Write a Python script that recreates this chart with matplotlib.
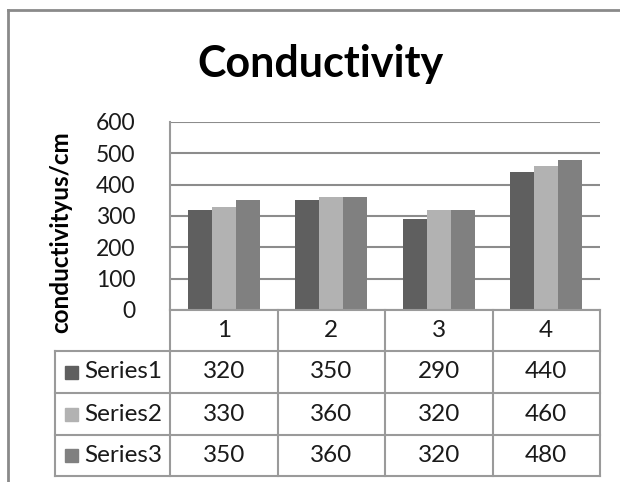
import matplotlib
matplotlib.use("Agg")
import matplotlib.pyplot as plt
from matplotlib.lines import Line2D
from matplotlib.patches import Rectangle
import matplotlib.transforms as mtransforms
import numpy as np

plt.rcParams['font.family'] = ['Lato', 'DejaVu Sans']

# ---- data ----
categories = ["1", "2", "3", "4"]
series_names = ["Series1", "Series2", "Series3"]
series1 = [320, 350, 290, 440]
series2 = [330, 360, 320, 460]
series3 = [350, 360, 320, 480]
y_ticks = [0, 100, 200, 300, 400, 500, 600]
title = "Conductivity"
ylabel = "conductivityus/cm"

series_values = [series1, series2, series3]
colors = ["#5f5f5f", "#b2b2b2", "#808080"]
grid_col = "#8c8c8c"
tbl_col = "#9a9a9a"
txt_col = "#1a1a1a"

W, H = 620, 482
fig = plt.figure(figsize=(W / 100, H / 100), dpi=100, facecolor="white")

# plot area in pixels
px_l, px_r, px_t, px_b = 170, 600, 122, 310
ax = fig.add_axes([px_l / W, 1 - px_b / H, (px_r - px_l) / W, (px_b - px_t) / H])

n = len(categories)
x = np.arange(n)
bw = 1 / 4.5
for i, (vals, c) in enumerate(zip(series_values, colors)):
    ax.bar(x + (i - 1) * bw, vals, width=bw, color=c, zorder=3, linewidth=0)

ax.set_xlim(-0.5, n - 0.5)
ax.set_ylim(0, 600)
ax.set_yticks(y_ticks)
ax.set_yticklabels([str(t) for t in y_ticks], fontsize=16.5, color=txt_col)
ax.tick_params(axis='y', length=0, pad=25)
ax.set_xticks([])
for s in ["top", "right", "bottom"]:
    ax.spines[s].set_visible(False)
ax.spines["left"].set_color(tbl_col)
ax.spines["left"].set_linewidth(1.5)
ax.yaxis.grid(True, color=grid_col, linewidth=1.5, zorder=0)
ax.set_axisbelow(True)

# ---- data table below the plot ----
ph = px_b - px_t
def ay(py):
    return (px_b - py) / ph
trans = mtransforms.blended_transform_factory(ax.transData, ax.transAxes)
row_edges_px = [310, 351, 393, 435, 476]
rows = [ay(p) for p in row_edges_px]
cat_px = (px_r - px_l) / n
label_left = -0.5 - (px_l - 55) / cat_px

def line(xs, ys):
    ax.add_line(Line2D(xs, ys, transform=trans, color=tbl_col, lw=1.5, clip_on=False, zorder=5))

# horizontal lines
line([-0.5, n - 0.5], [rows[0], rows[0]])
for r in rows[1:]:
    line([label_left, n - 0.5], [r, r])
# vertical lines
for k in range(n + 1):
    line([k - 0.5, k - 0.5], [rows[0], rows[-1]])
line([label_left, label_left], [rows[1], rows[-1]])

tfs = 17.5
# header labels
for k, cat in enumerate(categories):
    ax.text(k, (rows[0] + rows[1]) / 2, cat, transform=trans, ha='center', va='center',
            fontsize=tfs, color=txt_col, clip_on=False)
# rows
sq_w = (78 - 65) / cat_px
for j, (name, vals, c) in enumerate(zip(series_names, series_values, colors)):
    yc = (rows[j + 1] + rows[j + 2]) / 2
    sx = label_left + (65 - 55) / cat_px
    sq_h = 13 / ph
    ax.add_patch(Rectangle((sx, yc - sq_h / 2), sq_w, sq_h, transform=trans,
                           color=c, clip_on=False, zorder=5))
    ax.text(label_left + (84 - 55) / cat_px, yc, name, transform=trans,
            ha='left', va='center', fontsize=tfs, color=txt_col, clip_on=False)
    for k, v in enumerate(vals):
        ax.text(k, yc, str(v), transform=trans, ha='center', va='center',
                fontsize=tfs, color=txt_col, clip_on=False)

# title and y label
fig.text(320 / W, 1 - 64 / H, title, ha='center', va='center', fontsize=31,
         fontweight='bold', color="#000000")
fig.text(61 / W, 1 - 232 / H, ylabel, ha='center', va='center', rotation=90,
         fontsize=17.5, fontweight='bold', color="#000000")

# outer chart border (top and left visible)
fig.add_artist(Line2D([8 / W, 1.05], [1 - 10 / H, 1 - 10 / H], transform=fig.transFigure,
                      color="#8a8a8a", lw=2))
fig.add_artist(Line2D([8 / W, 8 / W], [1 - 10 / H, -0.05], transform=fig.transFigure,
                      color="#8a8a8a", lw=2))

fig.savefig("out.png", dpi=100, facecolor="white")
